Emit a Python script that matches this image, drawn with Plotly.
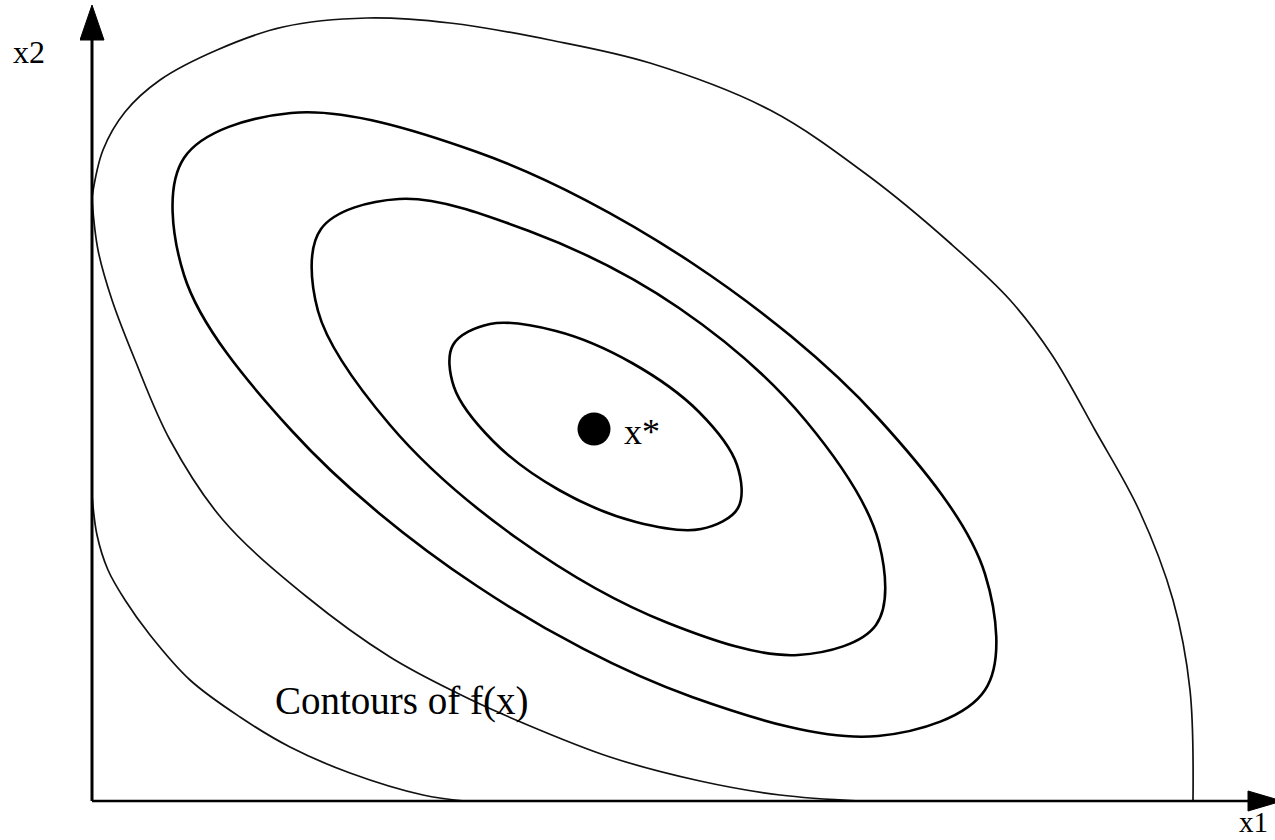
import plotly.graph_objects as go

# ---- data (units: 1 unit = 1 px of the reference, origin at the axes corner) ----
# contour A (innermost, closed)
A_x = [646, 609, 544, 467, 401, 362, 361, 398, 464, 540, 607, 645, 646]
A_y = [293, 272, 279, 311, 360, 414, 456, 477, 470, 438, 389, 336, 293]
# contour B (closed)
B_x = [784, 706, 576, 426, 298, 226, 229, 307, 437, 587, 714, 787, 784]
B_y = [176, 146, 178, 262, 376, 490, 572, 602, 570, 493, 380, 258, 176]
# contour C (closed)
C_x = [893, 786, 600, 385, 200, 92, 92, 199, 385, 600, 786, 893, 893]
C_y = [111, 65, 104, 215, 370, 526, 643, 688, 649, 538, 383, 227, 111]
# outer contour, upper-right part (clipped by the axes)
E_x = [1101, 1098, 1081, 1047, 1003, 960, 918, 858, 778, 678, 558, 458, 358, 275, 191, 125, 68, 33, 11, 0]
E_y = [0, 111, 201, 291, 371, 446, 501, 558, 624, 691, 738, 761, 778, 783, 774, 751, 721, 689, 651, 604]
# outer contour, lower-left part
D_x = [0, 6, 20, 43, 78, 131, 215, 298, 365, 431, 518, 608, 688, 768]
D_y = [601, 551, 501, 441, 361, 281, 204, 144, 108, 78, 44, 20, 6, 0]
# corner contour near the origin
F_x = [0, 5, 16, 33, 58, 98, 148, 198, 258, 331, 373]
F_y = [306, 266, 231, 201, 166, 121, 84, 54, 28, 6, 0]
# optimum point
XSTAR = [502]
YSTAR = [372]

LABEL_X1 = "x1"
LABEL_X2 = "x2"
LABEL_STAR = "x*"
LABEL_CONTOURS = "Contours of f(x)"

# ---- layout geometry ----
W, H = 1275, 840
ML, MR, MT, MB = 80, 0, 5, 19
X_RANGE = [-12, 1183]
Y_RANGE = [-20, 796]
PLOT_W = W - ML - MR
PLOT_H = H - MT - MB


def paper_x(px):
    return (px - ML) / PLOT_W


def paper_y(py):
    return (H - MB - py) / PLOT_H


SERIF = "Liberation Serif, Times New Roman, serif"

fig = go.Figure()

thick = dict(color="#000000", width=2.6, shape="spline", smoothing=1.0)
thin = dict(color="#111111", width=1.7, shape="spline", smoothing=1.0)

for xs, ys, ln in [
    (A_x, A_y, thick),
    (B_x, B_y, thick),
    (C_x, C_y, thick),
    (E_x, E_y, thin),
    (D_x, D_y, thin),
    (F_x, F_y, thin),
]:
    fig.add_trace(go.Scatter(x=xs, y=ys, mode="lines", line=ln,
                             hoverinfo="skip", showlegend=False))

fig.add_trace(go.Scatter(x=XSTAR, y=YSTAR, mode="markers",
                         marker=dict(size=33, color="#000000"),
                         hoverinfo="skip", showlegend=False))

# axes with arrowheads
shapes = [
    dict(type="line", xref="x", yref="y", x0=0, y0=0, x1=0, y1=765,
         line=dict(color="#000000", width=3)),
    dict(type="path", xref="x", yref="y", path="M -12 761 L 12 761 L 0 796 Z",
         fillcolor="#000000", line=dict(color="#000000", width=1)),
    dict(type="line", xref="x", yref="y", x0=0, y0=0, x1=1160, y1=0,
         line=dict(color="#000000", width=2.5)),
    dict(type="path", xref="x", yref="y", path="M 1156 -10 L 1156 10 L 1190 0 Z",
         fillcolor="#000000", line=dict(color="#000000", width=1)),
]

annotations = [
    dict(text=LABEL_STAR, x=530, y=369, xref="x", yref="y", xanchor="left",
         yanchor="middle", showarrow=False, font=dict(family=SERIF, size=36, color="#000")),
    dict(text=LABEL_CONTOURS, x=181, y=100, xref="x", yref="y", xanchor="left",
         yanchor="middle", showarrow=False, font=dict(family=SERIF, size=39, color="#000")),
    dict(text=LABEL_X2, x=paper_x(11), y=paper_y(52), xref="paper", yref="paper",
         xanchor="left", yanchor="middle", showarrow=False,
         font=dict(family=SERIF, size=32, color="#000")),
    dict(text=LABEL_X1, x=paper_x(1237), y=paper_y(822), xref="paper", yref="paper",
         xanchor="left", yanchor="middle", showarrow=False,
         font=dict(family=SERIF, size=29, color="#000")),
]

fig.update_layout(
    width=W, height=H, autosize=False,
    margin=dict(l=ML, r=MR, t=MT, b=MB, pad=0),
    paper_bgcolor="white", plot_bgcolor="white",
    xaxis=dict(range=X_RANGE, visible=False, showgrid=False, zeroline=False, fixedrange=True),
    yaxis=dict(range=Y_RANGE, visible=False, showgrid=False, zeroline=False, fixedrange=True),
    shapes=shapes, annotations=annotations, showlegend=False,
)

fig.write_html(
    "out.html",
    config={"displayModeBar": False},
    post_script="document.body.style.margin='0px';document.body.style.overflow='hidden';",
)
